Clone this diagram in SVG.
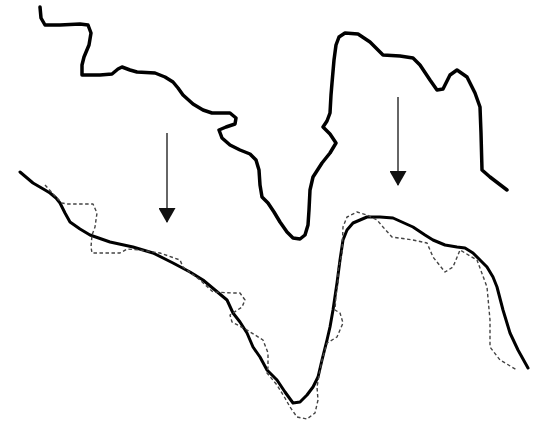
<svg xmlns="http://www.w3.org/2000/svg" width="538" height="427" viewBox="0 0 538 427">
<style>
.thick{fill:none;stroke:#000;stroke-width:3.5;stroke-linejoin:round;stroke-linecap:round}
.lower{fill:none;stroke:#000;stroke-width:3;stroke-linejoin:round;stroke-linecap:round}
.dash{fill:none;stroke:#444;stroke-width:1.4;stroke-dasharray:3.5 2.5;stroke-linejoin:round}
.arrow{fill:none;stroke:#666;stroke-width:2;marker-end:url(#ah)}
</style>
<defs>
<marker id="ah" viewBox="0 0 15 17" refX="14" refY="8.5" markerWidth="15" markerHeight="17" markerUnits="userSpaceOnUse" orient="auto">
<polygon points="0,0 15,8.5 0,17" fill="#111"/>
</marker>
</defs>
<rect width="538" height="427" fill="#fff"/>
<g id="upper-profile">
<polyline class="thick" points="40,7 41,18 45,25 60,25 80,24 88,25 91,33 89,45 84,57 82,65 82,75 100,75 112,74 118,69 122,67 130,70 137,72 155,73 165,77 173,82 178,88 183,95 193,104 203,110 212,113 230,113 236,118 235,124 226,127 219,130 222,138 230,145 240,150 250,154 256,160 259,170 260,185 262,197 268,203 274,212 280,222 287,232 293,238 300,239 305,235 308,225 309,210 310,190 313,177 322,163 330,153 336,143 330,134 323,127 327,121 330,113 331,95 332,83 334,60 336,45 339,37 345,33 358,34 370,42 383,55 400,56 413,58 420,65 430,80 437,90 443,89 450,75 457,70 467,77 475,93 480,107 481,133 482,170 490,177 507,190"/>
</g>
<g id="lower-profile">
<polyline class="lower" points="20,172 33,183 45,190 50,193 56,198 60,203 65,213 70,222 80,229 90,235 110,242 133,247 153,253 173,263 190,272 203,280 215,290 227,300 233,313 240,322 247,333 253,347 260,357 267,370 277,380 285,392 293,403 300,402 307,395 313,387 318,377 322,360 327,340 330,327 333,310 337,283 340,260 343,240 347,230 353,223 367,217 380,217 393,218 413,227 425,235 433,240 445,245 457,247 465,248 473,253 487,267 493,277 497,287 503,310 510,333 518,350 528,368"/>
</g>
<g id="dashed-profile">
<polyline class="dash" points="45,185 55,196 62,203 67,204 93,204 97,213 95,227 92,235 91,247 92,253 120,253 127,249 140,250 160,253 180,260 183,267 200,280 213,292 233,293 240,293 245,300 242,307 230,315 232,322 247,330 263,340 268,353 268,367 267,373 277,385 285,398 290,407 297,417 307,419 315,413 318,400 317,387 320,370 322,360 327,343 337,337 343,323 340,313 335,310 336,295 338,283 338,270 342,253 343,227 347,217 357,212 367,215 377,220 383,227 392,237 413,240 427,243 433,257 445,272 453,267 458,255 460,250 477,260 487,287 490,320 490,347 500,360 517,370"/>
</g>
<g id="connectors">
<line class="arrow" x1="167" y1="133" x2="167" y2="222"/>
<line class="arrow" x1="398" y1="97" x2="398" y2="185"/>
</g>
</svg>
